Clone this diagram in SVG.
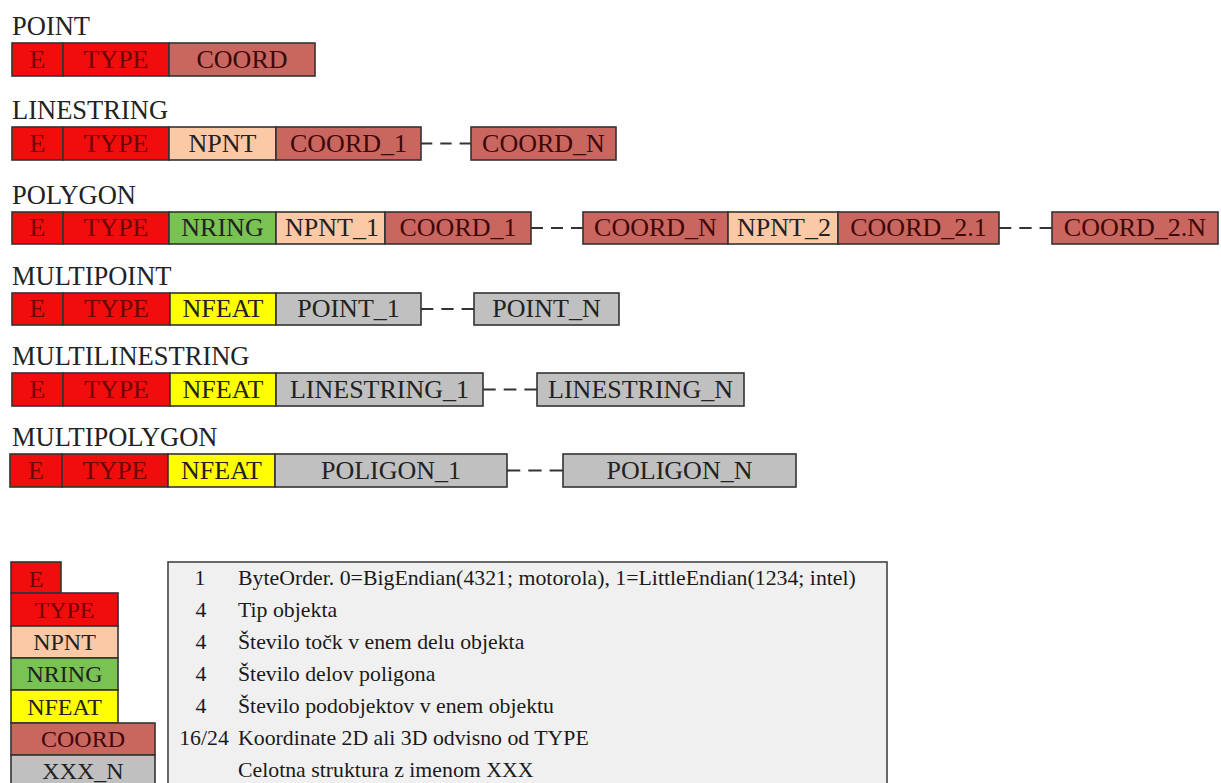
<svg xmlns="http://www.w3.org/2000/svg" width="1221" height="783" viewBox="0 0 1221 783">
<style>
text{font-family:"Liberation Serif","Times New Roman",serif}
.lbl{font-size:26.5px;fill:#222}
.c rect{stroke:#333;stroke-width:1.6}
.c text{font-size:26px;text-anchor:middle;fill:#222}
.red rect{fill:#f20d0d}
.red text{fill:#6e0505}
.crd rect{fill:#c9665f}
.crd text{fill:#3f0808}
.npt rect{fill:#fbc9a6}
.nrg rect{fill:#79c352}
.nft rect{fill:#ffff00}
.gry rect{fill:#c0c0c0}
.lg text{font-size:24px}
.conn line{stroke:#333;stroke-width:2.2}
.tbl text{font-size:21.8px;fill:#1a1a1a}
.tbl .n{text-anchor:middle}
</style>

<!-- POINT -->
<g id="row-point">
<text class="lbl" x="12" y="35">POINT</text>
<g id="p-e" class="c red"><rect x="12" y="43" width="51" height="33"/><text x="37.5" y="68">E</text></g>
<g id="p-type" class="c red"><rect x="63" y="43" width="106" height="33"/><text x="116" y="68">TYPE</text></g>
<g id="p-coord" class="c crd"><rect x="169" y="43" width="146" height="33"/><text x="242" y="68">COORD</text></g>
</g>

<!-- LINESTRING -->
<g id="row-linestring">
<text class="lbl" x="12" y="119">LINESTRING</text>
<g id="l-e" class="c red"><rect x="12" y="127" width="51" height="33"/><text x="37.5" y="152">E</text></g>
<g id="l-type" class="c red"><rect x="63" y="127" width="106" height="33"/><text x="116" y="152">TYPE</text></g>
<g id="l-npnt" class="c npt"><rect x="169" y="127" width="107" height="33"/><text x="222.5" y="152">NPNT</text></g>
<g id="l-coord1" class="c crd"><rect x="276" y="127" width="145" height="33"/><text x="348.5" y="152">COORD_1</text></g>
<g id="l-coordn" class="c crd"><rect x="471" y="127" width="145" height="33"/><text x="543.5" y="152">COORD_N</text></g>
</g>

<!-- POLYGON -->
<g id="row-polygon">
<text class="lbl" x="12" y="204">POLYGON</text>
<g id="pg-e" class="c red"><rect x="12" y="212" width="51" height="32"/><text x="37.5" y="236">E</text></g>
<g id="pg-type" class="c red"><rect x="63" y="212" width="106" height="32"/><text x="116" y="236">TYPE</text></g>
<g id="pg-nring" class="c nrg"><rect x="169" y="212" width="107" height="32"/><text x="222.5" y="236">NRING</text></g>
<g id="pg-npnt1" class="c npt"><rect x="276" y="212" width="109" height="32"/><text x="332" y="236">NPNT_1</text></g>
<g id="pg-coord1" class="c crd"><rect x="385" y="212" width="146" height="32"/><text x="458" y="236">COORD_1</text></g>
<g id="pg-coordn" class="c crd"><rect x="583" y="212" width="145" height="32"/><text x="655.5" y="236">COORD_N</text></g>
<g id="pg-npnt2" class="c npt"><rect x="728" y="212" width="110" height="32"/><text x="784" y="236">NPNT_2</text></g>
<g id="pg-coord21" class="c crd"><rect x="838" y="212" width="161" height="32"/><text x="918.5" y="236">COORD_2.1</text></g>
<g id="pg-coord2n" class="c crd"><rect x="1052" y="212" width="166" height="32"/><text x="1135" y="236">COORD_2.N</text></g>
</g>

<!-- MULTIPOINT -->
<g id="row-multipoint">
<text class="lbl" x="12" y="285">MULTIPOINT</text>
<g id="mp-e" class="c red"><rect x="12" y="293" width="51" height="32"/><text x="37.5" y="317">E</text></g>
<g id="mp-type" class="c red"><rect x="63" y="293" width="107" height="32"/><text x="116.5" y="317">TYPE</text></g>
<g id="mp-nfeat" class="c nft"><rect x="170" y="293" width="106" height="32"/><text x="223" y="317">NFEAT</text></g>
<g id="mp-point1" class="c gry"><rect x="276" y="293" width="145" height="32"/><text x="348.5" y="317">POINT_1</text></g>
<g id="mp-pointn" class="c gry"><rect x="474" y="293" width="145" height="32"/><text x="546.5" y="317">POINT_N</text></g>
</g>

<!-- MULTILINESTRING -->
<g id="row-multilinestring">
<text class="lbl" x="12" y="365">MULTILINESTRING</text>
<g id="ml-e" class="c red"><rect x="12" y="373" width="51" height="33"/><text x="37.5" y="398">E</text></g>
<g id="ml-type" class="c red"><rect x="63" y="373" width="107" height="33"/><text x="116.5" y="398">TYPE</text></g>
<g id="ml-nfeat" class="c nft"><rect x="170" y="373" width="106" height="33"/><text x="223" y="398">NFEAT</text></g>
<g id="ml-ls1" class="c gry"><rect x="276" y="373" width="207" height="33"/><text x="379.5" y="398">LINESTRING_1</text></g>
<g id="ml-lsn" class="c gry"><rect x="537" y="373" width="207" height="33"/><text x="640.5" y="398">LINESTRING_N</text></g>
</g>

<!-- MULTIPOLYGON -->
<g id="row-multipolygon">
<text class="lbl" x="12" y="446">MULTIPOLYGON</text>
<g id="mg-e" class="c red"><rect x="10" y="454" width="52" height="33"/><text x="36" y="479">E</text></g>
<g id="mg-type" class="c red"><rect x="62" y="454" width="106" height="33"/><text x="115" y="479">TYPE</text></g>
<g id="mg-nfeat" class="c nft"><rect x="168" y="454" width="107" height="33"/><text x="221.5" y="479">NFEAT</text></g>
<g id="mg-pol1" class="c gry"><rect x="275" y="454" width="232" height="33"/><text x="391" y="479">POLIGON_1</text></g>
<g id="mg-poln" class="c gry"><rect x="563" y="454" width="233" height="33"/><text x="679.5" y="479">POLIGON_N</text></g>
</g>

<!-- connectors -->
<g id="connectors" class="conn">
<line x1="421" y1="143.5" x2="471" y2="143.5" stroke-dasharray="11.3 8"/>
<line x1="531" y1="228" x2="583" y2="228" stroke-dasharray="12 8"/>
<line x1="999" y1="228" x2="1052" y2="228" stroke-dasharray="12.3 8"/>
<line x1="421" y1="309" x2="474" y2="309" stroke-dasharray="12.3 8"/>
<line x1="483" y1="389.5" x2="537" y2="389.5" stroke-dasharray="12.7 8"/>
<line x1="507" y1="470.5" x2="563" y2="470.5" stroke-dasharray="13.3 8"/>
</g>

<!-- legend stack -->
<g id="legend-e" class="c red lg"><rect x="11" y="562" width="50" height="31"/><text x="36" y="587">E</text></g>
<g id="legend-type" class="c red lg"><rect x="11" y="593" width="107" height="33"/><text x="64.5" y="618">TYPE</text></g>
<g id="legend-npnt" class="c npt lg"><rect x="11" y="626" width="107" height="32"/><text x="64.5" y="650">NPNT</text></g>
<g id="legend-nring" class="c nrg lg"><rect x="11" y="658" width="107" height="32"/><text x="64.5" y="682">NRING</text></g>
<g id="legend-nfeat" class="c nft lg"><rect x="11" y="690" width="107" height="33"/><text x="64.5" y="715">NFEAT</text></g>
<g id="legend-coord" class="c crd lg"><rect x="11" y="723" width="144" height="32"/><text x="83" y="747">COORD</text></g>
<g id="legend-xxx" class="c gry lg"><rect x="11" y="755" width="144" height="34"/><text x="83" y="779">XXX_N</text></g>

<!-- legend table -->
<g id="legend-table" class="tbl">
<rect x="168" y="562" width="719" height="230" fill="#f0f0f0" stroke="#444" stroke-width="1.6"/>
<text class="n" x="200" y="585">1</text><text x="238" y="585">ByteOrder. 0=BigEndian(4321; motorola), 1=LittleEndian(1234; intel)</text>
<text class="n" x="201" y="617">4</text><text x="238" y="617">Tip objekta</text>
<text class="n" x="201" y="649">4</text><text x="238" y="649">Število točk v enem delu objekta</text>
<text class="n" x="201" y="681">4</text><text x="238" y="681">Število delov poligona</text>
<text class="n" x="201" y="713">4</text><text x="238" y="713">Število podobjektov v enem objektu</text>
<text class="n" x="204" y="745">16/24</text><text x="238" y="745">Koordinate 2D ali 3D odvisno od TYPE</text>
<text x="238" y="777">Celotna struktura z imenom XXX</text>
</g>
</svg>
